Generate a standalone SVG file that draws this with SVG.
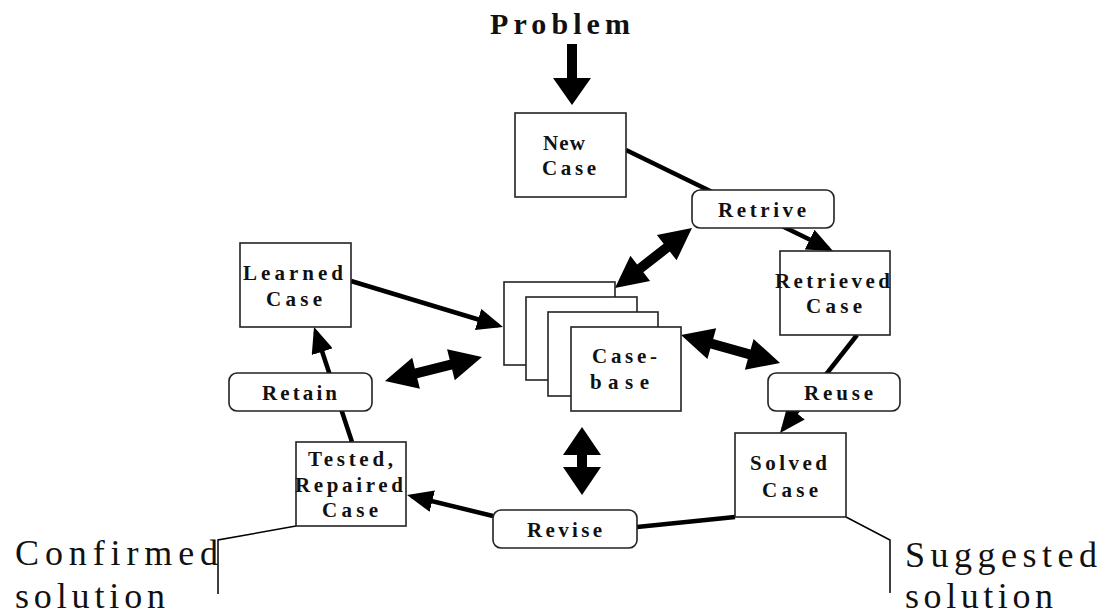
<svg xmlns="http://www.w3.org/2000/svg" width="1102" height="614" viewBox="0 0 1102 614">
<style>
.box{fill:#fff;stroke:#222;stroke-width:1.6}
.lbl{font-family:"Liberation Serif","Times New Roman",serif;font-weight:bold;font-size:21px;fill:#111}
.big{font-family:"Liberation Serif","Times New Roman",serif;font-size:36px;fill:#111}
.con{fill:none;stroke:#000;stroke-width:4.5}
.thin{fill:none;stroke:#000;stroke-width:1.5}
.solid{fill:#000;stroke:none}
</style>
<defs>
<marker id="ah" markerUnits="userSpaceOnUse" markerWidth="27" markerHeight="22" refX="21" refY="11" orient="auto">
<path d="M0,0 L26,11 L0,22 z" fill="#000"/>
</marker>
</defs>
<rect width="1102" height="614" fill="#fff"/>
<g id="connectors">
<line class="con" x1="626" y1="150" x2="828.5" y2="248.8" marker-end="url(#ah)"/>
<line class="con" x1="857" y1="335" x2="783.1" y2="429.1" marker-end="url(#ah)"/>
<line class="con" x1="735" y1="517" x2="637" y2="527"/>
<line class="con" x1="493" y1="516" x2="411.9" y2="496.2" marker-end="url(#ah)"/>
<line class="con" x1="352" y1="442" x2="315.6" y2="331.7" marker-end="url(#ah)"/>
<line class="con" x1="351" y1="281" x2="498.2" y2="325.5" marker-end="url(#ah)"/>
<polygon class="solid" points="567,44 577,44 577,78 591,78 572,105 553,78 567,78"/>
<polygon class="solid" transform="translate(615,288) rotate(-37.93)" points="0,0 32,-16 32,-5 65.6,-5 65.6,-16 97.6,0 65.6,16 65.6,5 32,5 32,16"/>
<polygon class="solid" transform="translate(681,335) rotate(15.79)" points="0,0 32,-16 32,-5 70.9,-5 70.9,-16 102.9,0 70.9,16 70.9,5 32,5 32,16"/>
<polygon class="solid" transform="translate(385,381) rotate(-13.9)" points="0,0 32,-16 32,-5 67.9,-5 67.9,-16 99.9,0 67.9,16 67.9,5 32,5 32,16"/>
<polygon class="solid" transform="translate(582,427) rotate(90)" points="0,0 28,-19 28,-5 40,-5 40,-19 68,0 40,19 40,5 28,5 28,19"/>
<polyline class="thin" points="846,517 890,540 890,593"/>
<polyline class="thin" points="296,526 218,540 218,594"/>
</g>
<g id="problem">
<text x="490" y="34" font-family="Liberation Serif, serif" font-weight="bold" font-size="30" fill="#111" textLength="140" lengthAdjust="spacing">Problem</text>
</g>
<g id="new-case">
<rect class="box" x="515" y="113" width="111" height="84"/>
<text class="lbl" x="543" y="150" textLength="42" lengthAdjust="spacing">New</text>
<text class="lbl" x="542" y="175" textLength="54" lengthAdjust="spacing">Case</text>
</g>
<g id="retrive">
<rect class="box" x="692" y="190" width="142" height="38" rx="8"/>
<text class="lbl" x="718" y="217" textLength="88" lengthAdjust="spacing">Retrive</text>
</g>
<g id="retrieved-case">
<rect class="box" x="780" y="251" width="110" height="84"/>
<text class="lbl" x="775" y="288" textLength="115" lengthAdjust="spacing">Retrieved</text>
<text class="lbl" x="806" y="313" textLength="56" lengthAdjust="spacing">Case</text>
</g>
<g id="reuse">
<rect class="box" x="768" y="373" width="132" height="38" rx="8"/>
<text class="lbl" x="804" y="400" textLength="69" lengthAdjust="spacing">Reuse</text>
</g>
<g id="solved-case">
<rect class="box" x="735" y="433" width="111" height="84"/>
<text class="lbl" x="750" y="470" textLength="77" lengthAdjust="spacing">Solved</text>
<text class="lbl" x="762" y="497" textLength="56" lengthAdjust="spacing">Case</text>
</g>
<g id="revise">
<rect class="box" x="493" y="510" width="144" height="38" rx="8"/>
<text class="lbl" x="527" y="537" textLength="75" lengthAdjust="spacing">Revise</text>
</g>
<g id="tested-case">
<rect class="box" x="296" y="442" width="110" height="84"/>
<text class="lbl" x="308" y="466" textLength="85" lengthAdjust="spacing">Tested,</text>
<text class="lbl" x="295" y="492" textLength="108" lengthAdjust="spacing">Repaired</text>
<text class="lbl" x="322" y="517" textLength="56" lengthAdjust="spacing">Case</text>
</g>
<g id="retain">
<rect class="box" x="229" y="373" width="143" height="38" rx="8"/>
<text class="lbl" x="262" y="400" textLength="75" lengthAdjust="spacing">Retain</text>
</g>
<g id="learned-case">
<rect class="box" x="240" y="243" width="111" height="84"/>
<text class="lbl" x="243" y="280" textLength="100" lengthAdjust="spacing">Learned</text>
<text class="lbl" x="266" y="306" textLength="56" lengthAdjust="spacing">Case</text>
</g>
<g id="case-base">
<rect class="box" x="504" y="282" width="111" height="83"/>
<rect class="box" x="526" y="297" width="111" height="83"/>
<rect class="box" x="548" y="312" width="110" height="84"/>
<rect class="box" x="571" y="327" width="110" height="84"/>
<text class="lbl" x="592" y="363" textLength="65" lengthAdjust="spacing">Case-</text>
<text class="lbl" x="590" y="389" textLength="59" lengthAdjust="spacing">base</text>
</g>
<g id="confirmed">
<text class="big" x="15" y="565" textLength="203" lengthAdjust="spacing">Confirmed</text>
<text class="big" x="15" y="608" textLength="150" lengthAdjust="spacing">solution</text>
</g>
<g id="suggested">
<text class="big" x="905" y="567" textLength="192" lengthAdjust="spacing">Suggested</text>
<text class="big" x="905" y="608" textLength="148" lengthAdjust="spacing">solution</text>
</g>
</svg>
